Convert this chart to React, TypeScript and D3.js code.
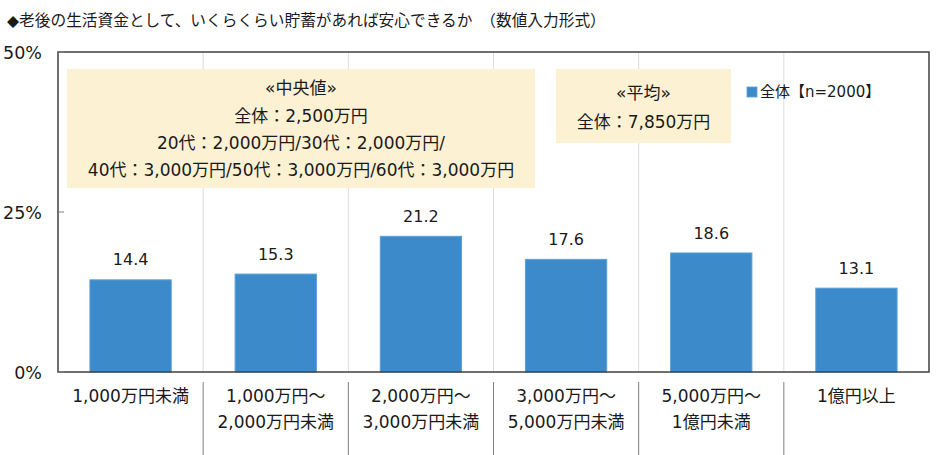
import React from "react";
import * as d3 from "d3";

const title = "◆老後の生活資金として、いくらくらい貯蓄があれば安心できるか　（数値入力形式）";
const categories: string[][] = [
  ["1,000万円未満"],
  ["1,000万円～", "2,000万円未満"],
  ["2,000万円～", "3,000万円未満"],
  ["3,000万円～", "5,000万円未満"],
  ["5,000万円～", "1億円未満"],
  ["1億円以上"],
];
const values = [14.4, 15.3, 21.2, 17.6, 18.6, 13.1];
const yTicks = [0, 25, 50];
const seriesName = "全体【n=2000】";
const medianLines = [
  "«中央値»",
  "全体：2,500万円",
  "20代：2,000万円/30代：2,000万円/",
  "40代：3,000万円/50代：3,000万円/60代：3,000万円",
];
const meanLines = ["«平均»", "全体：7,850万円"];

const W = 940;
const H = 455;
const FONT = "'DejaVu Sans', 'Noto Sans CJK JP', sans-serif";

export default function App() {
  const left = 58, right = 929, top = 52, bottom = 372;
  const x = d3.scaleBand<number>().domain(d3.range(categories.length)).range([left, right]).padding(0);
  const y = d3.scaleLinear().domain([0, 50]).range([bottom, top]);
  const bw = x.bandwidth() * 0.56;
  const bounds = d3.range(1, categories.length).map((i) => x(i)!);

  return (
    <svg width={W} height={H} style={{ position: "absolute", left: 0, top: 0, background: "#fff" }} fontFamily={FONT}>
      <text x={7} y={26} fontSize={15.7} fill="#1a1a1a">{title}</text>

      {bounds.map((b, i) => (
        <line key={"g" + i} x1={b} x2={b} y1={top} y2={bottom} stroke="#dcdcdc" strokeWidth={1} />
      ))}

      <rect x={67} y={69} width={468} height={119} fill="#fdf1d3" />
      {medianLines.map((t, i) => (
        <text key={"m" + i} x={301} y={[88, 116, 143, 170][i]} dy="0.35em" textAnchor="middle" fontSize={17} fill="#1a1a1a">{t}</text>
      ))}
      <rect x={556} y={69} width={175} height={74} fill="#fdf1d3" />
      {meanLines.map((t, i) => (
        <text key={"a" + i} x={643.5} y={[93, 122][i]} dy="0.35em" textAnchor="middle" fontSize={17} fill="#1a1a1a">{t}</text>
      ))}

      <rect x={747} y={87} width={10} height={10} fill="#3c8ac9" stroke="#5aa0da" strokeWidth={0.8} />
      <text x={760} y={92} dy="0.35em" fontSize={15} fill="#1a1a1a">{seriesName}</text>

      {values.map((v, i) => {
        const cx = x(i)! + x.bandwidth() / 2;
        return (
          <g key={"b" + i}>
            <rect x={cx - bw / 2} y={y(v)} width={bw} height={bottom - y(v)} fill="#3c8ac9" stroke="#5aa0da" strokeWidth={1} />
            <text x={cx} y={y(v) - 20} dy="0.35em" textAnchor="middle" fontSize={16} fill="#1a1a1a">{v.toFixed(1)}</text>
          </g>
        );
      })}

      <rect x={left} y={top} width={right - left} height={bottom - top} fill="none" stroke="#404040" strokeWidth={1.5} />

      {yTicks.map((t) => (
        <g key={"y" + t}>
          <line x1={left} x2={left + 6} y1={y(t)} y2={y(t)} stroke="#808080" strokeWidth={1} />
          <text x={42} y={y(t) + 1} dy="0.35em" textAnchor="end" fontSize={17.5} fill="#1a1a1a">{t + "%"}</text>
        </g>
      ))}

      {bounds.map((b, i) => (
        <line key={"s" + i} x1={b} x2={b} y1={382} y2={H} stroke="#808080" strokeWidth={1} />
      ))}
      {categories.map((lines, i) => {
        const cx = x(i)! + x.bandwidth() / 2;
        return lines.map((t, j) => (
          <text key={"x" + i + "-" + j} x={cx} y={396 + j * 26} dy="0.35em" textAnchor="middle" fontSize={17} fill="#1a1a1a">{t}</text>
        ));
      })}
    </svg>
  );
}
